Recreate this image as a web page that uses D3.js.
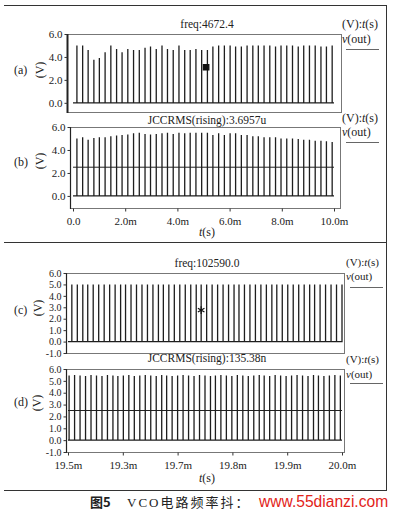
<!DOCTYPE html>
<html>
<head>
<meta charset="utf-8">
<script src="https://cdn.jsdelivr.net/npm/d3@7"></script>
<style>
  body { margin: 0; background: #fff; }
  svg { display: block; font-family: "Liberation Serif", "DejaVu Serif", serif; }
</style>
</head>
<body>
<script>
// pulse times (ms) and peak voltages
var timesLow = [0.15, 0.37, 0.58, 0.80, 1.01, 1.23, 1.45, 1.67, 1.88, 2.10, 2.32, 2.54, 2.76, 2.97, 3.19, 3.41,
  3.62, 3.84, 4.06, 4.28, 4.49, 4.71, 4.93, 5.15, 5.36, 5.58, 5.80, 6.02, 6.23, 6.45, 6.67, 6.89, 7.10, 7.32,
  7.54, 7.76, 7.97, 8.19, 8.41, 8.63, 8.84, 9.06, 9.28, 9.50, 9.71, 9.93]
var peaksA = [5.0, 5.0, 4.6, 3.75, 3.9, 4.4, 5.0, 4.7, 4.4, 4.7, 4.6, 4.6, 4.8, 4.9, 4.7, 5.0, 4.7, 4.6, 5.0,
  4.6, 4.6, 4.7, 4.6, 4.6, 4.9, 5.0, 5.0, 5.0, 4.9, 4.9, 5.0, 5.0, 5.0, 5.0, 5.0, 4.9, 5.0, 5.0, 5.0, 4.9,
  5.0, 5.0, 5.0, 4.9, 4.9, 5.0]
var peaksB = [5.0, 5.1, 4.9, 5.05, 5.1, 5.1, 5.2, 5.25, 5.3, 5.35, 5.45, 5.5, 5.4, 5.35, 5.4, 5.45, 5.5, 5.4,
  5.5, 5.45, 5.5, 5.5, 5.5, 5.5, 5.3, 5.45, 5.3, 5.45, 5.45, 5.3, 5.3, 5.2, 5.2, 5.1, 5.1, 5.1, 5.0, 5.0, 5.0,
  4.95, 4.9, 4.9, 4.8, 4.8, 4.75, 4.7]

var timesHighC = [19.507, 19.517, 19.527, 19.536, 19.546, 19.556, 19.566, 19.576, 19.586, 19.596, 19.605,
  19.615, 19.625, 19.635, 19.645, 19.655, 19.665, 19.674, 19.684, 19.694, 19.704, 19.714, 19.724, 19.734,
  19.743, 19.753, 19.763, 19.773, 19.783, 19.793, 19.803, 19.812, 19.822, 19.832, 19.842, 19.852, 19.862,
  19.872, 19.881, 19.891, 19.901, 19.911, 19.921, 19.931, 19.941, 19.950, 19.960, 19.970, 19.980, 19.990, 20.000]
var peaksC = [5.0, 5.0, 5.0, 5.0, 5.0, 5.0, 5.0, 5.0, 5.0, 5.0, 5.0, 5.0, 5.0, 5.0, 5.0, 5.0, 5.0, 5.0, 5.0,
  5.0, 5.0, 5.0, 5.0, 5.0, 5.0, 5.0, 5.0, 5.0, 5.0, 5.0, 5.0, 5.0, 5.0, 5.0, 5.0, 5.0, 5.0, 5.0, 5.0, 5.0,
  5.0, 5.0, 5.0, 5.0, 5.0, 5.0, 5.0, 5.0, 5.0, 5.0, 5.0]
var timesHighD = [19.502, 19.512, 19.522, 19.532, 19.542, 19.552, 19.562, 19.572, 19.582, 19.591, 19.601,
  19.611, 19.621, 19.631, 19.641, 19.651, 19.661, 19.671, 19.680, 19.690, 19.700, 19.710, 19.720, 19.730,
  19.740, 19.750, 19.760, 19.769, 19.779, 19.789, 19.799, 19.809, 19.819, 19.829, 19.839, 19.849, 19.858,
  19.868, 19.878, 19.888, 19.898, 19.908, 19.918, 19.928, 19.938, 19.948, 19.957, 19.967, 19.977, 19.987, 19.997]
var peaksD = [5.45, 5.5, 5.45, 5.4, 5.5, 5.45, 5.4, 5.5, 5.45, 5.4, 5.45, 5.5, 5.4, 5.45, 5.5, 5.45, 5.4,
  5.5, 5.45, 5.4, 5.45, 5.5, 5.45, 5.4, 5.5, 5.45, 5.4, 5.45, 5.5, 5.45, 5.4, 5.5, 5.45, 5.4, 5.45, 5.5,
  5.45, 5.4, 5.5, 5.45, 5.4, 5.45, 5.5, 5.45, 5.4, 5.5, 5.45, 5.4, 5.45, 5.5, 5.45]

var ticksLow = [0, 2, 4, 6, 8, 10]
var tickLabelsLow = ['0.0', '2.0m', '4.0m', '6.0m', '8.0m', '10.0m']
var ticksHigh = [19.5, 19.6, 19.7, 19.8, 19.9, 20.0]
var tickLabelsHigh = ['19.5m', '19.3m', '19.7m', '19.8m', '19.9m', '20.0m']
var yTicksAB = [0, 2, 4, 6]
var yTicksCD = [-1, 0, 1, 2, 3, 4, 5, 6]
var thresholdLevel = 2.5
var cursorA = [5.1, 3.1]
var cursorC = [19.743, 2.75]
var headings = ['freq:4672.4', 'JCCRMS(rising):3.6957u', 'freq:102590.0', 'JCCRMS(rising):135.38n']
var panelNames = ['(a)', '(b)', '(c)', '(d)']
var caption = ['图5', 'VCO电路频率抖：']
var watermark = 'www.55dianzi.com'

var W = 394, H = 515

var svg = d3.select('body').append('svg')
  .attr('width', W)
  .attr('height', H)

// outer frame
var frame = svg.append('g').attr('stroke', '#333').attr('stroke-width', 1)
frame.append('line').attr('x1', 4).attr('x2', 387).attr('y1', 5.5).attr('y2', 5.5)
frame.append('line').attr('x1', 386.5).attr('x2', 386.5).attr('y1', 5).attr('y2', 491)
frame.append('line').attr('x1', 4).attr('x2', 387).attr('y1', 242.5).attr('y2', 242.5)
frame.append('line').attr('x1', 4).attr('x2', 387).attr('y1', 490.5).attr('y2', 490.5)

var panels = [
  { name: panelNames[0], heading: headings[0], times: timesLow, peaks: peaksA,
    xDomain: [0, 10], xRange: [73, 334], yDomain: [-0.8, 6], yRange: [112, 34], yTicks: yTicksAB,
    box: [67, 341], labelY: 74, vX: 44, vY: 70, headY: 28, legendX: 342, legendY: [28, 43, 49],
    font: 11, legendFont: 12, cursor: cursorA, cursorType: 'square' },
  { name: panelNames[1], heading: headings[1], times: timesLow, peaks: peaksB,
    xDomain: [0, 10], xRange: [73, 334], yDomain: [-1.05, 6], yRange: [208, 127], yTicks: yTicksAB,
    box: [70, 340], labelY: 166, vX: 44, vY: 161, headY: 124, legendX: 342, legendY: [122, 136, 142],
    font: 11, legendFont: 12, threshold: thresholdLevel, xTicks: ticksLow, xLabels: tickLabelsLow, tY: 236 },
  { name: panelNames[2], heading: headings[2], times: timesHighC, peaks: peaksC,
    xDomain: [19.5, 20], xRange: [68, 342], yDomain: [-1, 6], yRange: [353, 273], yTicks: yTicksCD,
    box: [66, 344], labelY: 314, vX: 42, vY: 308, headY: 267, legendX: 346, legendY: [266, 280, 287],
    font: 10, legendFont: 11, cursor: cursorC, cursorType: 'asterisk' },
  { name: panelNames[3], heading: headings[3], times: timesHighD, peaks: peaksD,
    xDomain: [19.5, 20], xRange: [68, 342], yDomain: [-1, 6], yRange: [452, 369], yTicks: yTicksCD,
    box: [66, 344], labelY: 406, vX: 41, vY: 403, headY: 362, legendX: 346, legendY: [363, 378, 383],
    font: 10, legendFont: 11, threshold: thresholdLevel, xTicks: ticksHigh, xLabels: tickLabelsHigh, tY: 482 }
]

panels.forEach(drawPanel)

function drawPanel (p) {
  var x = d3.scaleLinear().domain(p.xDomain).range(p.xRange)
  var y = d3.scaleLinear().domain(p.yDomain).range(p.yRange)
  var g = svg.append('g')
  var top = p.yRange[1], bottom = p.yRange[0]

  // plot box
  g.append('rect')
    .attr('x', p.box[0] + 0.5).attr('y', top + 0.5)
    .attr('width', p.box[1] - p.box[0]).attr('height', bottom - top)
    .attr('fill', 'none').attr('stroke', '#777').attr('stroke-width', 1)
  g.append('line')
    .attr('x1', p.box[0] + 0.5).attr('x2', p.box[0] + 0.5)
    .attr('y1', top).attr('y2', bottom + 1)
    .attr('stroke', '#222').attr('stroke-width', p.name === '(a)' ? 2 : 1.2)

  // y axis
  var yAxis = g.append('g')
    .attr('transform', 'translate(' + (p.box[0] + 0.5) + ',0)')
    .call(d3.axisLeft(y).tickValues(p.yTicks).tickSize(3).tickPadding(2)
      .tickFormat(function (d) { return d.toFixed(1) }))
  yAxis.select('.domain').remove()
  yAxis.selectAll('line').attr('stroke', '#333')
  yAxis.selectAll('text')
    .attr('font-family', '"Liberation Serif", serif')
    .attr('font-size', p.font + 'px').attr('fill', '#222')

  // x axis
  if (p.xTicks) {
    var xAxis = g.append('g')
      .attr('transform', 'translate(0,' + (bottom + 0.5) + ')')
      .call(d3.axisBottom(x).tickValues(p.xTicks).tickSize(3).tickPadding(6)
        .tickFormat(function (d, i) { return p.xLabels[i] }))
    xAxis.select('.domain').remove()
    xAxis.selectAll('line').attr('stroke', '#333')
    xAxis.selectAll('text')
      .attr('font-family', '"Liberation Serif", serif')
      .attr('font-size', '11px').attr('fill', '#222')

    var tl = g.append('text').attr('x', 199).attr('y', p.tY)
      .attr('font-size', '12px').attr('fill', '#222')
    tl.append('tspan').attr('font-style', 'italic').text('t')
    tl.append('tspan').text('(s)')
  }

  // threshold line
  if (p.threshold !== undefined) {
    g.append('line')
      .attr('x1', x(p.xDomain[0])).attr('x2', x(p.xDomain[1]))
      .attr('y1', y(p.threshold)).attr('y2', y(p.threshold))
      .attr('stroke', '#222').attr('stroke-width', 1)
  }

  // waveform: baseline with narrow pulses
  var pts = [[p.xDomain[0], 0]]
  p.times.forEach(function (t, i) {
    pts.push([t, 0], [t, p.peaks[i]], [t, 0])
  })
  pts.push([p.xDomain[1], 0])
  var line = d3.line()
    .x(function (d) { return x(d[0]) })
    .y(function (d) { return y(d[1]) })
  g.append('path')
    .attr('d', line(pts))
    .attr('fill', 'none').attr('stroke', '#1e1e1e').attr('stroke-width', 1.3)

  // measurement cursor
  if (p.cursor) {
    var sym = p.cursorType === 'square'
      ? d3.symbol().type(d3.symbolSquare).size(30)
      : d3.symbol().type(d3.symbolAsterisk).size(40)
    g.append('path')
      .attr('d', sym())
      .attr('transform', 'translate(' + x(p.cursor[0]) + ',' + y(p.cursor[1]) + ')')
      .attr('fill', p.cursorType === 'square' ? '#111' : 'none')
      .attr('stroke', '#111').attr('stroke-width', 1.2)
  }

  // heading
  g.append('text')
    .attr('x', 207).attr('y', p.headY).attr('text-anchor', 'middle')
    .attr('font-size', '11.5px').attr('fill', '#222')
    .text(p.heading)

  // panel label and unit
  g.append('text').attr('x', 14).attr('y', p.labelY)
    .attr('font-size', '12px').attr('fill', '#222').text(p.name)
  g.append('text')
    .attr('transform', 'translate(' + p.vX + ',' + p.vY + ') rotate(-90)')
    .attr('text-anchor', 'middle')
    .attr('font-size', '12px').attr('fill', '#222').text('(V)')

  // legend block
  var lg = g.append('text').attr('x', p.legendX).attr('y', p.legendY[0])
    .attr('font-size', p.legendFont + 'px').attr('fill', '#222')
  lg.append('tspan').text('(V):')
  lg.append('tspan').attr('font-style', 'italic').text('t')
  lg.append('tspan').text('(s)')
  var lv = g.append('text').attr('x', p.legendX).attr('y', p.legendY[1])
    .attr('font-size', p.legendFont + 'px').attr('fill', '#222')
  lv.append('tspan').attr('font-style', 'italic').text('v')
  lv.append('tspan').text('(out)')
  g.append('line')
    .attr('x1', p.legendX + 4).attr('x2', p.legendX + 37)
    .attr('y1', p.legendY[2] + 0.5).attr('y2', p.legendY[2] + 0.5)
    .attr('stroke', '#666').attr('stroke-width', 1)
}

// caption
svg.append('text').attr('x', 90).attr('y', 507)
  .attr('font-family', '"Noto Sans CJK SC", sans-serif')
  .attr('font-size', '13px').attr('font-weight', 'bold').attr('fill', '#222')
  .text(caption[0])
svg.append('text').attr('x', 127).attr('y', 507)
  .attr('font-family', '"Liberation Serif", "Noto Sans CJK SC", serif')
  .attr('font-size', '13px').attr('letter-spacing', '2px').attr('fill', '#222')
  .text(caption[1])

svg.append('text').attr('x', 259).attr('y', 507)
  .attr('font-family', '"Liberation Sans", Arial, sans-serif')
  .attr('font-size', '15.6px').attr('fill', '#e2231a')
  .text(watermark)
</script>
</body>
</html>
